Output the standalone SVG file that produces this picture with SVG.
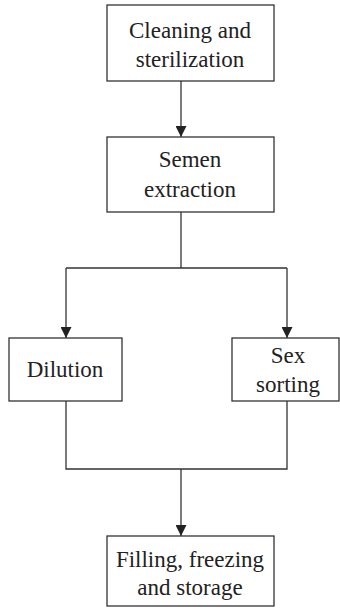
<svg xmlns="http://www.w3.org/2000/svg" width="340" height="611" viewBox="0 0 340 611">
<style>
.box{fill:#fff;stroke:#333;stroke-width:1.3}
.t{font-family:'Liberation Serif','DejaVu Serif',serif;font-size:23px;fill:#222;text-anchor:middle}
.c{fill:none;stroke:#333;stroke-width:1.3}
</style>
<defs>
<marker id="a" markerWidth="11" markerHeight="11" refX="11" refY="5.5" orient="auto" markerUnits="userSpaceOnUse">
<path d="M0,0 L11,5.5 L0,11 Z" fill="#222"/>
</marker>
</defs>
<g id="connectors">
<path class="c" d="M181,81 V137" marker-end="url(#a)"/>
<path class="c" d="M181,212 V268 M66,268 H287"/>
<path class="c" d="M66,268 V338" marker-end="url(#a)"/>
<path class="c" d="M287,268 V338" marker-end="url(#a)"/>
<path class="c" d="M66,401 V469 H287 V401 M181,469 V536" marker-end="url(#a)"/>
</g>
<g id="n1"><rect class="box" x="107" y="5" width="167" height="76"/><text class="t" x="190" y="38" font-family="Liberation Serif, serif">Cleaning and</text><text class="t" x="190" y="67">sterilization</text></g>
<g id="n2"><rect class="box" x="107" y="137" width="167" height="75"/><text class="t" x="190" y="167">Semen</text><text class="t" x="190" y="197">extraction</text></g>
<g id="n3"><rect class="box" x="9" y="338" width="113" height="63"/><text class="t" x="65" y="377">Dilution</text></g>
<g id="n4"><rect class="box" x="232" y="338" width="107" height="63"/><text class="t" x="288" y="363">Sex</text><text class="t" x="288" y="392">sorting</text></g>
<g id="n5"><rect class="box" x="107" y="536" width="167" height="70"/><text class="t" x="190" y="567">Filling, freezing</text><text class="t" x="190" y="595">and storage</text></g>
</svg>
